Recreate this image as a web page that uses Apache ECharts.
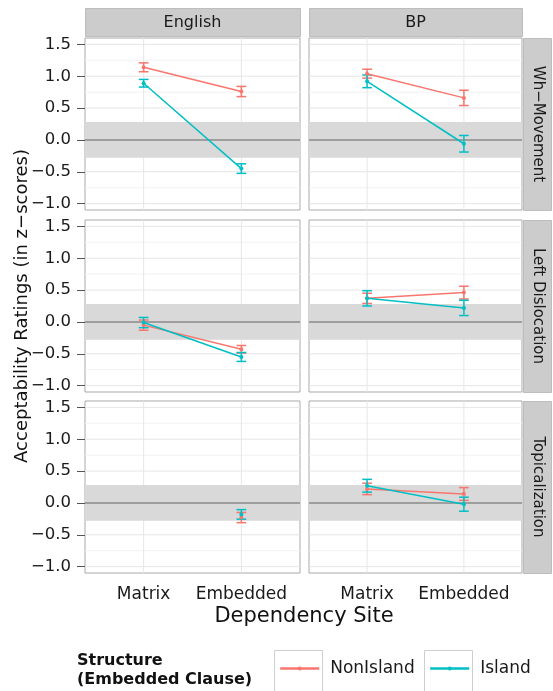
<!DOCTYPE html>
<html>
<head>
<meta charset="utf-8">
<script src="https://cdn.jsdelivr.net/npm/echarts@6/dist/echarts.min.js"></script>
<style>
html, body { margin: 0; padding: 0; background: #ffffff; }
#chart { width: 553px; height: 691px; }
</style>
</head>
<body>
<div id="chart"></div>
<script>
// ---------------- data ----------------
const categories = ['Matrix', 'Embedded'];
const languages = ['English', 'BP'];
const dependencies = ['Wh\u2212Movement', 'Left Dislocation', 'Topicalization'];
const structures = ['NonIsland', 'Island'];
const yTicks = [-1.0, -0.5, 0.0, 0.5, 1.0, 1.5];
const yMinorTicks = [-0.75, -0.25, 0.25, 0.75, 1.25];
const referenceBand = [-0.28, 0.28];

// means, rows = dependencies (Wh, LD, Top), cols = categories (Matrix, Embedded)
const nonIslandMeanEnglish = [[1.14, 0.76], [-0.05, -0.43], [null, -0.23]];
const nonIslandMeanBP      = [[1.04, 0.66], [0.37, 0.46], [0.22, 0.14]];
const islandMeanEnglish    = [[0.89, -0.45], [-0.01, -0.55], [null, -0.18]];
const islandMeanBP         = [[0.92, -0.06], [0.37, 0.22], [0.27, -0.02]];

// standard errors (half length of error bars)
const nonIslandSeEnglish = [[0.07, 0.08], [0.08, 0.06], [null, 0.08]];
const nonIslandSeBP      = [[0.07, 0.12], [0.08, 0.10], [0.09, 0.10]];
const islandSeEnglish    = [[0.06, 0.075], [0.08, 0.07], [null, 0.075]];
const islandSeBP         = [[0.10, 0.13], [0.12, 0.12], [0.10, 0.11]];

// ---------------- layout / style ----------------
const FONT = 'DejaVu Sans';
const colors = { NonIsland: '#F8766D', Island: '#00BFC4' };
const colLeft = [85, 309];
const colWidth = [215, 213];
const rowTop = [38, 220, 401];
const rowHeight = 172;
const whiskerHalf = 0.05;

const meanTable = { NonIsland: [nonIslandMeanEnglish, nonIslandMeanBP], Island: [islandMeanEnglish, islandMeanBP] };
const seTable = { NonIsland: [nonIslandSeEnglish, nonIslandSeBP], Island: [islandSeEnglish, islandSeBP] };

const grids = [], xAxes = [], yAxes = [], series = [];

for (let r = 0; r < dependencies.length; r++) {
  for (let c = 0; c < languages.length; c++) {
    const g = r * 2 + c;
    grids.push({
      left: colLeft[c], top: rowTop[r], width: colWidth[c], height: rowHeight,
      show: true, backgroundColor: '#ffffff', borderColor: '#a9a9a9', borderWidth: 1
    });
    xAxes.push({
      type: 'value', gridIndex: g, min: 0.4, max: 2.6,
      axisLine: { show: false }, splitLine: { show: false },
      axisTick: { show: r === 2, customValues: [1, 2], length: 7, lineStyle: { color: '#555', width: 1 } },
      axisLabel: {
        show: r === 2, customValues: [1, 2], margin: 13,
        formatter: v => categories[Math.round(v) - 1],
        fontSize: 17, fontFamily: FONT, color: '#1a1a1a'
      }
    });
    yAxes.push({
      type: 'value', gridIndex: g, min: -1.1, max: 1.6,
      axisLine: { show: false }, splitLine: { show: false },
      axisTick: { show: c === 0, customValues: yTicks, length: 8, lineStyle: { color: '#555', width: 1 } },
      axisLabel: {
        show: c === 0, customValues: yTicks, margin: 14,
        formatter: v => v.toFixed(1).replace('-', '\u2212'),
        fontSize: 16.5, fontFamily: FONT, color: '#1a1a1a'
      }
    });

    // panel background: grid lines, reference band, zero line
    series.push({
      type: 'custom', name: 'panel', xAxisIndex: g, yAxisIndex: g, z: 1, silent: true,
      data: [[1, 0]],
      renderItem: (params, api) => {
        const cs = params.coordSys;
        const xl = cs.x, xr = cs.x + cs.width, yt = cs.y, yb = cs.y + cs.height;
        const ch = [];
        yMinorTicks.forEach(v => {
          const y = api.coord([1, v])[1];
          ch.push({ type: 'line', shape: { x1: xl, y1: y, x2: xr, y2: y }, style: { stroke: '#f2f2f2', lineWidth: 1 } });
        });
        yTicks.forEach(v => {
          const y = api.coord([1, v])[1];
          ch.push({ type: 'line', shape: { x1: xl, y1: y, x2: xr, y2: y }, style: { stroke: '#e6e6e6', lineWidth: 1 } });
        });
        [1, 2].forEach(v => {
          const x = api.coord([v, 0])[0];
          ch.push({ type: 'line', shape: { x1: x, y1: yt, x2: x, y2: yb }, style: { stroke: '#e6e6e6', lineWidth: 1 } });
        });
        const bTop = api.coord([1, referenceBand[1]])[1];
        const bBot = api.coord([1, referenceBand[0]])[1];
        ch.push({ type: 'rect', shape: { x: xl, y: bTop, width: cs.width, height: bBot - bTop }, style: { fill: '#d9d9d9' } });
        const y0 = api.coord([1, 0])[1];
        ch.push({ type: 'line', shape: { x1: xl, y1: y0, x2: xr, y2: y0 }, style: { stroke: '#8a8a8a', lineWidth: 1.6 } });
        return { type: 'group', children: ch };
      }
    });

    structures.forEach(s => {
      const means = meanTable[s][c][r];
      const ses = seTable[s][c][r];
      const pts = [];
      const bars = [];
      categories.forEach((cat, i) => {
        if (means[i] !== null) {
          pts.push([i + 1, means[i]]);
          bars.push([i + 1, means[i], ses[i]]);
        }
      });
      // means + connecting line
      series.push({
        type: 'line', name: s, xAxisIndex: g, yAxisIndex: g, z: 5,
        data: pts, symbol: 'circle', symbolSize: 4, showSymbol: true,
        lineStyle: { color: colors[s], width: 1.5 },
        itemStyle: { color: colors[s] },
        emphasis: { disabled: true }
      });
      // error bars
      series.push({
        type: 'custom', name: s + ' error', xAxisIndex: g, yAxisIndex: g, z: 4, silent: true,
        encode: { x: 0, y: 1 },
        itemStyle: { color: colors[s] },
        data: bars,
        renderItem: (params, api) => {
          const x = api.value(0), m = api.value(1), se = api.value(2);
          const top = api.coord([x, m + se]);
          const bot = api.coord([x, m - se]);
          const hw = api.size([whiskerHalf, 0])[0];
          const st = { stroke: colors[s], lineWidth: 1.5 };
          return {
            type: 'group', children: [
              { type: 'line', shape: { x1: top[0], y1: top[1], x2: bot[0], y2: bot[1] }, style: st },
              { type: 'line', shape: { x1: top[0] - hw, y1: top[1], x2: top[0] + hw, y2: top[1] }, style: st },
              { type: 'line', shape: { x1: bot[0] - hw, y1: bot[1], x2: bot[0] + hw, y2: bot[1] }, style: st }
            ]
          };
        }
      });
    });
  }
}

// ---------------- graphics: strips, titles, legend keys ----------------
const graphics = [];
languages.forEach((lang, c) => {
  graphics.push({
    type: 'rect', shape: { x: colLeft[c] + 0.5, y: 8.5, width: colWidth[c], height: 28 },
    style: { fill: '#cccccc', stroke: '#bdbdbd', lineWidth: 1 }, silent: true
  });
  graphics.push({
    type: 'text', x: colLeft[c] + colWidth[c] / 2, y: 22.5,
    style: { text: lang, fontSize: 16, fontFamily: FONT, fill: '#1a1a1a', align: 'center', verticalAlign: 'middle' }, silent: true
  });
});
dependencies.forEach((dep, r) => {
  graphics.push({
    type: 'rect', shape: { x: 523.5, y: rowTop[r] + 0.5, width: 28, height: rowHeight },
    style: { fill: '#cccccc', stroke: '#bdbdbd', lineWidth: 1 }, silent: true
  });
  graphics.push({
    type: 'text', x: 537.5, y: rowTop[r] + rowHeight / 2, rotation: -Math.PI / 2,
    style: { text: dep, fontSize: 15, fontFamily: FONT, fill: '#1a1a1a', align: 'center', verticalAlign: 'middle' }, silent: true
  });
});
graphics.push({
  type: 'text', x: 304, y: 617,
  style: { text: 'Dependency Site', fontSize: 21, fontFamily: FONT, fill: '#111', align: 'center', verticalAlign: 'middle' }, silent: true
});
graphics.push({
  type: 'text', x: 22, y: 306, rotation: Math.PI / 2,
  style: { text: 'Acceptability Ratings (in z\u2212scores)', fontSize: 18, fontFamily: FONT, fill: '#111', align: 'center', verticalAlign: 'middle' }, silent: true
});
graphics.push({
  type: 'text', x: 77, y: 670.5,
  style: { text: 'Structure\n(Embedded Clause)', fontSize: 16, fontWeight: 'bold', lineHeight: 19, fontFamily: FONT, fill: '#111', align: 'left', verticalAlign: 'middle' }, silent: true
});
[274.5, 424.5].forEach(x => {
  graphics.push({
    type: 'rect', shape: { x: x, y: 650.5, width: 48, height: 42 },
    style: { fill: '#ffffff', stroke: '#cfcfcf', lineWidth: 1 }, silent: true
  });
});

const legendBase = {
  orient: 'horizontal', itemWidth: 39, itemHeight: 5, selectedMode: false, padding: 0,
  lineStyle: { width: 2.4 },
  textStyle: { fontSize: 17, fontFamily: FONT, color: '#1a1a1a', padding: [0, 0, 0, 6] }
};

const chart = echarts.init(document.getElementById('chart'), null, { renderer: 'canvas' });
chart.setOption({
  animation: false,
  backgroundColor: '#ffffff',
  grid: grids,
  xAxis: xAxes,
  yAxis: yAxes,
  series: series,
  legend: [
    Object.assign({}, legendBase, { data: ['NonIsland'], left: 279, top: 660 }),
    Object.assign({}, legendBase, { data: ['Island'], left: 429, top: 660 })
  ],
  graphic: graphics
});
</script>
</body>
</html>
